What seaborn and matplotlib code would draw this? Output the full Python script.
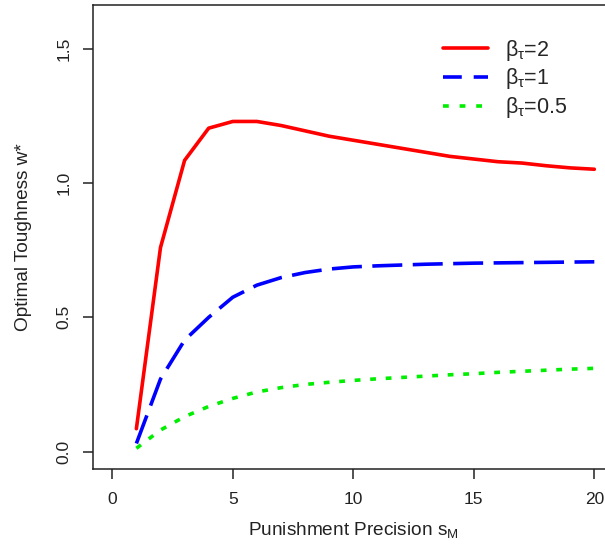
import numpy as np
import pandas as pd
import matplotlib
matplotlib.use("Agg")
import matplotlib.pyplot as plt
import seaborn as sns

# Data
s_M = [1, 2, 3, 4, 5, 6, 7, 8, 9, 10, 11, 12, 13, 14, 15, 16, 17, 18, 19, 20]
w_beta2 = [0.085, 0.76, 1.085, 1.205, 1.23, 1.23, 1.215, 1.195, 1.175, 1.16,
           1.145, 1.13, 1.115, 1.10, 1.09, 1.08, 1.075, 1.065, 1.057, 1.052]
w_beta1 = [0.03, 0.27, 0.415, 0.50, 0.575, 0.62, 0.648, 0.667, 0.68, 0.688,
           0.692, 0.695, 0.698, 0.70, 0.702, 0.703, 0.704, 0.705, 0.706, 0.707]
w_beta05 = [0.012, 0.08, 0.13, 0.168, 0.198, 0.222, 0.238, 0.25, 0.258, 0.265,
            0.271, 0.276, 0.281, 0.286, 0.29, 0.295, 0.299, 0.303, 0.307, 0.31]
series_labels = [r"$\beta_\tau$=2", r"$\beta_\tau$=1", r"$\beta_\tau$=0.5"]
x_ticks = [0, 5, 10, 15, 20]
y_ticks = [0.0, 0.5, 1.0, 1.5]
y_tick_labels = ["0.0", "0.5", "1.0", "1.5"]

df = pd.DataFrame({
    "s": s_M * 3,
    "w": w_beta2 + w_beta1 + w_beta05,
    "series": [series_labels[0]] * len(s_M) + [series_labels[1]] * len(s_M)
              + [series_labels[2]] * len(s_M),
})

sns.set_style("ticks")
plt.rcParams["font.family"] = ["Liberation Sans", "DejaVu Sans"]
plt.rcParams["mathtext.fontset"] = "custom"
plt.rcParams["mathtext.rm"] = "Liberation Sans"
plt.rcParams["mathtext.it"] = "Liberation Sans"
plt.rcParams["mathtext.bf"] = "Liberation Sans:bold"

W, H = 605, 548
fig = plt.figure(figsize=(W / 100, H / 100), dpi=100)
left, right, top, bottom = 93, 613.6, 5, 468.7
ax = fig.add_axes([left / W, 1 - bottom / H, (right - left) / W, (bottom - top) / H])

palette = {series_labels[0]: "#FF0000", series_labels[1]: "#0000FF", series_labels[2]: "#00EE00"}
dashes = {series_labels[0]: "", series_labels[1]: (8.3, 2.9), series_labels[2]: (1.6, 2.7)}
sns.lineplot(data=df, x="s", y="w", hue="series", style="series", palette=palette,
             dashes=dashes, linewidth=2.6, ax=ax, legend=True)

ax.set_xlim(-0.8, 20.8)
ax.set_ylim(-0.064, 1.664)
ax.set_xticks(x_ticks)
ax.set_xticklabels([str(t) for t in x_ticks])
ax.set_yticks(y_ticks)
ax.set_yticklabels(y_tick_labels, rotation=90, va="center")
for sp in ax.spines.values():
    sp.set_visible(True)
    sp.set_linewidth(1.1)
    sp.set_color("#222222")
ax.tick_params(axis="both", length=7.5, width=1.1, color="#222222", labelsize=12.5,
               labelcolor="#222222")
ax.tick_params(axis="x", pad=9)
ax.tick_params(axis="y", pad=8)

ax.set_xlabel(r"Punishment Precision s$_\mathregular{M}$", fontsize=13.7, color="#222222")
ax.set_ylabel("Optimal Toughness w*", fontsize=13.7, color="#222222")
ax.xaxis.set_label_coords(0.5, (bottom - 530) / (bottom - top))
ax.xaxis.label.set_va("center")
ax.yaxis.set_label_coords((24 - left) / (right - left), 0.5)
ax.yaxis.label.set_va("center")

fs = 15.5
fs_px = fs * 100 / 72
leg = ax.legend(frameon=False, fontsize=fs, handlelength=45 / fs_px,
                handletextpad=17 / fs_px, labelspacing=0.18, loc="upper left",
                bbox_to_anchor=((443 - 0.4 * fs_px - left) / (right - left),
                                (bottom - 29) / (bottom - top)),
                borderaxespad=0)
leg_lines = leg.get_lines()
for line in leg_lines:
    line.set_linewidth(2.6)
leg_lines[1].set_dashes((5.2, 3.3))
leg_lines[2].set_dashes((1.6, 3.0))

fig.savefig("out.png", dpi=100)
